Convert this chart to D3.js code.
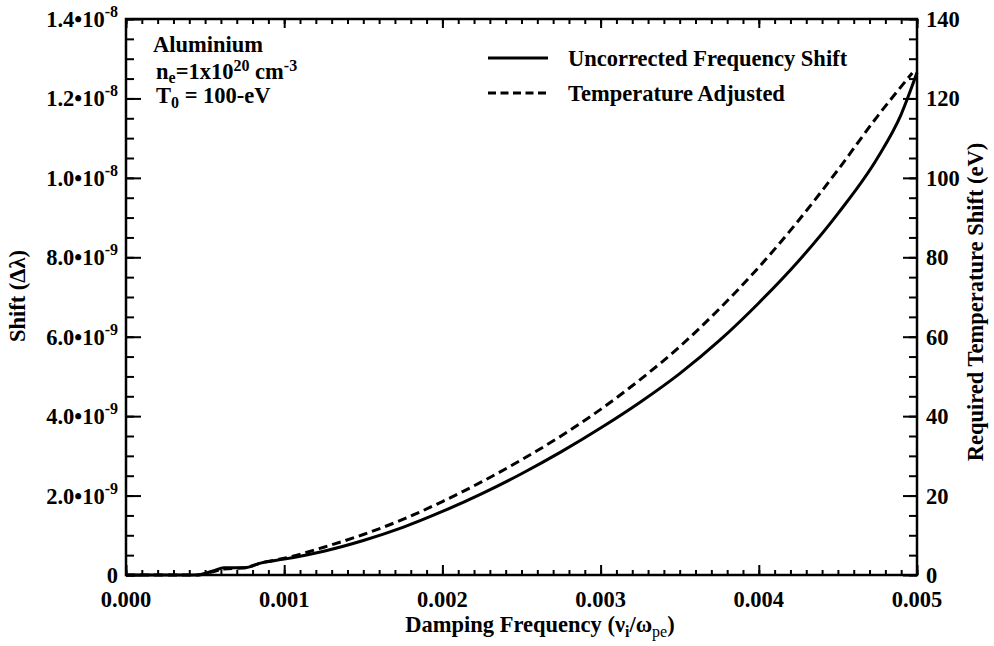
<!DOCTYPE html>
<html>
<head>
<meta charset="utf-8">
<script src="https://cdn.jsdelivr.net/npm/d3@7"></script>
<style>
  body { margin: 0; background: #fff; }
  svg text { font-family: 'Liberation Serif', 'Times New Roman', serif; font-weight: bold; fill: #000; }
</style>
</head>
<body>
<div id="chart"></div>
<script>
// uncorrected frequency shift (solid), shift in units of 1e-9
const dampingSolid = [0, 0.0002, 0.00045, 0.00055, 0.00062, 0.00075, 0.00085, 0.001, 0.00125, 0.0015,
  0.00175, 0.002, 0.00225, 0.0025, 0.00275, 0.003, 0.00325, 0.0035, 0.00375, 0.004,
  0.00425, 0.0045, 0.00475, 0.0049, 0.005];
const shiftSolid = [0, 0, 0, 0.1, 0.18, 0.18, 0.3, 0.4, 0.6, 0.87,
  1.2, 1.6, 2.05, 2.55, 3.1, 3.7, 4.35, 5.07, 5.9, 6.85,
  7.9, 9.1, 10.5, 11.6, 12.65];

// temperature adjusted (dashed)
const dampingDashed = [0, 0.0002, 0.00045, 0.00055, 0.00062, 0.00075, 0.00085, 0.001, 0.00125, 0.0015,
  0.00175, 0.002, 0.00225, 0.0025, 0.00275, 0.003, 0.00325, 0.0035, 0.00375, 0.004,
  0.00425, 0.0045, 0.00475, 0.00497];
const shiftDashed = [0, 0, 0, 0.08, 0.15, 0.18, 0.3, 0.42, 0.7, 1.02,
  1.4, 1.85, 2.35, 2.9, 3.5, 4.17, 4.92, 5.75, 6.7, 7.75,
  8.92, 10.2, 11.55, 12.64];

const xTicks = [0, 0.001, 0.002, 0.003, 0.004, 0.005];
const yTicks = [0, 2, 4, 6, 8, 10, 12, 14];
const yTickLabels = [['0', ''], ['2.0\u202210', '-9'], ['4.0\u202210', '-9'], ['6.0\u202210', '-9'],
  ['8.0\u202210', '-9'], ['1.0\u202210', '-8'], ['1.2\u202210', '-8'], ['1.4\u202210', '-8']];
const rightTicks = [0, 20, 40, 60, 80, 100, 120, 140];

const width = 994;
const height = 646;
const margin = { top: 19, right: 77, bottom: 71, left: 126 };
const plotW = width - margin.left - margin.right;
const plotH = height - margin.top - margin.bottom;
const fs = '22.5px';
const fsSmall = '16px';

const svg = d3.select('#chart').append('svg')
  .attr('width', width)
  .attr('height', height);

const g = svg.append('g')
  .attr('transform', `translate(${margin.left}, ${margin.top})`);

const xScale = d3.scaleLinear().domain([0, 0.005]).range([0, plotW]);
const yScale = d3.scaleLinear().domain([0, 14]).range([plotH, 0]);
const rScale = d3.scaleLinear().domain([0, 140]).range([plotH, 0]);

// minor ticks first, then major, all pointing inward
const xMinor = d3.range(0, 51).map(i => i * 0.0001);
const yMinor = d3.range(0, 29).map(i => i * 0.5);
const rMinor = d3.range(0, 29).map(i => i * 5);

function styleAxis(sel) {
  sel.select('.domain').remove();
  sel.selectAll('line').attr('stroke', '#000').attr('stroke-width', 2);
  sel.selectAll('text').remove();
}

g.append('g').attr('transform', `translate(0, ${plotH})`)
  .call(d3.axisBottom(xScale).tickValues(xMinor).tickSize(-5)).call(styleAxis);
g.append('g').attr('transform', `translate(0, ${plotH})`)
  .call(d3.axisBottom(xScale).tickValues(xTicks).tickSize(-10)).call(styleAxis);
g.append('g')
  .call(d3.axisTop(xScale).tickValues(xMinor).tickSize(-5)).call(styleAxis);
g.append('g')
  .call(d3.axisTop(xScale).tickValues(xTicks).tickSize(-9)).call(styleAxis);
g.append('g')
  .call(d3.axisLeft(yScale).tickValues(yMinor).tickSize(-8)).call(styleAxis);
g.append('g')
  .call(d3.axisLeft(yScale).tickValues(yTicks).tickSize(-15)).call(styleAxis);
g.append('g').attr('transform', `translate(${plotW}, 0)`)
  .call(d3.axisRight(rScale).tickValues(rMinor).tickSize(-8)).call(styleAxis);
g.append('g').attr('transform', `translate(${plotW}, 0)`)
  .call(d3.axisRight(rScale).tickValues(rightTicks).tickSize(-14)).call(styleAxis);

// frame
g.append('rect')
  .attr('width', plotW)
  .attr('height', plotH)
  .attr('fill', 'none')
  .attr('stroke', '#000')
  .attr('stroke-width', 2.5);

// tick labels
g.selectAll('.x-label')
  .data(xTicks)
  .enter()
  .append('text')
  .attr('class', 'x-label')
  .attr('x', d => xScale(d))
  .attr('y', plotH + 32)
  .attr('text-anchor', 'middle')
  .style('font-size', fs)
  .text(d => d3.format('.3f')(d));

const yLab = g.selectAll('.y-label')
  .data(yTicks)
  .enter()
  .append('text')
  .attr('class', 'y-label')
  .attr('x', -8)
  .attr('y', d => yScale(d) + 8)
  .attr('text-anchor', 'end')
  .style('font-size', fs);
yLab.append('tspan').text((d, i) => yTickLabels[i][0]);
yLab.append('tspan')
  .attr('dy', -10)
  .style('font-size', fsSmall)
  .text((d, i) => yTickLabels[i][1]);

g.selectAll('.r-label')
  .data(rightTicks)
  .enter()
  .append('text')
  .attr('class', 'r-label')
  .attr('x', plotW + 9)
  .attr('y', d => rScale(d) + 8)
  .style('font-size', fs)
  .text(d => d);

// axis titles
const xTitle = svg.append('text')
  .attr('x', 540)
  .attr('y', 632)
  .attr('text-anchor', 'middle')
  .style('font-size', fs);
xTitle.append('tspan').text('Damping Frequency (\u03bd');
xTitle.append('tspan').attr('dy', 5).style('font-size', fsSmall).text('i');
xTitle.append('tspan').attr('dy', -5).text('/\u03c9');
xTitle.append('tspan').attr('dy', 5).style('font-size', fsSmall).style('font-weight', 'normal').text('pe');
xTitle.append('tspan').attr('dy', -5).text(')');

svg.append('text')
  .attr('transform', 'translate(25, 296) rotate(-90)')
  .attr('text-anchor', 'middle')
  .style('font-size', fs)
  .text('Shift (\u0394\u03bb)');

svg.append('text')
  .attr('transform', 'translate(983, 302) rotate(-90)')
  .attr('text-anchor', 'middle')
  .style('font-size', fs)
  .text('Required Temperature Shift (eV)');

// curves
const line = d3.line()
  .x(d => xScale(d[0]))
  .y(d => yScale(d[1]))
  .curve(d3.curveMonotoneX);

g.append('path')
  .datum(dampingSolid.map((d, i) => [d, shiftSolid[i]]))
  .attr('d', line)
  .attr('fill', 'none')
  .attr('stroke', '#000')
  .attr('stroke-width', 3);

g.append('path')
  .datum(dampingDashed.map((d, i) => [d, shiftDashed[i]]))
  .attr('d', line)
  .attr('fill', 'none')
  .attr('stroke', '#000')
  .attr('stroke-width', 3)
  .attr('stroke-dasharray', '9, 5');

// annotation
svg.append('text')
  .attr('x', 153)
  .attr('y', 52)
  .style('font-size', fs)
  .text('Aluminium');

const ne = svg.append('text')
  .attr('x', 156)
  .attr('y', 79)
  .style('font-size', fs);
ne.append('tspan').text('n');
ne.append('tspan').attr('dy', 4).style('font-size', fsSmall).text('e');
ne.append('tspan').attr('dy', -4).text('=1x10');
ne.append('tspan').attr('dy', -8).style('font-size', fsSmall).text('20');
ne.append('tspan').attr('dy', 8).text(' cm');
ne.append('tspan').attr('dy', -8).style('font-size', fsSmall).text('-3');

const t0 = svg.append('text')
  .attr('x', 156)
  .attr('y', 103)
  .style('font-size', fs);
t0.append('tspan').text('T');
t0.append('tspan').attr('dy', 5).style('font-size', fsSmall).text('0');
t0.append('tspan').attr('dy', -5).text(' = 100-eV');

// legend
const legend = [
  { label: 'Uncorrected Frequency Shift', dash: null, y: 58 },
  { label: 'Temperature Adjusted', dash: '8, 4.5', y: 93 },
];
legend.forEach(function (item) {
  svg.append('line')
    .attr('x1', 488)
    .attr('x2', 548)
    .attr('y1', item.y)
    .attr('y2', item.y)
    .attr('stroke', '#000')
    .attr('stroke-width', 3)
    .attr('stroke-dasharray', item.dash);
  svg.append('text')
    .attr('x', 568)
    .attr('y', item.y + 8)
    .style('font-size', fs)
    .text(item.label);
});
</script>
</body>
</html>
